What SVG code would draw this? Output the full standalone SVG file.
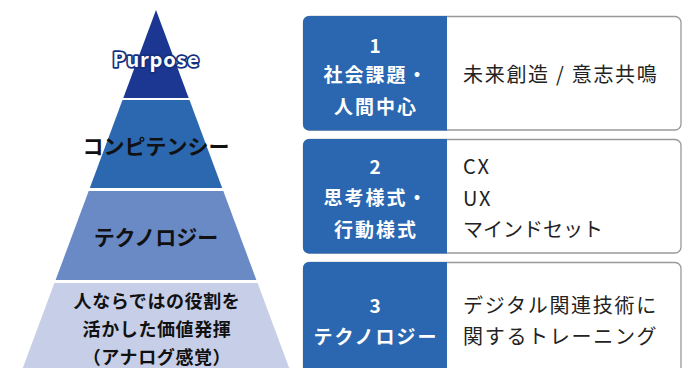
<svg xmlns="http://www.w3.org/2000/svg" width="696" height="368" viewBox="0 0 696 368">
<style>
text{font-family:"Noto Sans CJK JP","Noto Sans",sans-serif;}
.pt{font-size:21px;font-weight:700;fill:#111;text-anchor:middle;dominant-baseline:central;}
.p4{font-size:18px;font-weight:700;fill:#111;text-anchor:middle;dominant-baseline:central;letter-spacing:0.6px;}
.lt{font-size:19px;font-weight:700;fill:#fff;text-anchor:middle;dominant-baseline:central;letter-spacing:2px;}
.rt{font-size:20px;font-weight:400;fill:#222;dominant-baseline:central;letter-spacing:1.7px;}
.box{fill:#fff;stroke:#999;stroke-width:1.3;}
.lb{fill:#2a67b0;}
</style>
<g id="pyramid">
<g id="purpose">
<polygon points="156,10 188.7,98 123.3,98" fill="#1b3791"/>
<text x="156" y="67" text-anchor="middle" fill="#fff" stroke="#14307f" stroke-width="3.5" paint-order="stroke" stroke-linejoin="round" letter-spacing="0.8" style="font-size:20px;font-weight:700">Purpose</text>
</g>
<g id="competency">
<polygon points="122.5,100 189.5,100 222.2,188 89.8,188" fill="#2b68b0"/>
<text class="pt" x="156" y="145">コンピテンシー</text>
</g>
<g id="technology">
<polygon points="88.7,191 223.3,191 256.4,280 55.6,280" fill="#6a8ac6"/>
<text class="pt" x="156" y="236">テクノロジー</text>
</g>
<g id="human">
<polygon points="54.4,283 257.6,283 289.2,368 22.8,368" fill="#c7cfe8"/>
<text class="p4" x="157" y="300">人ならではの役割を</text>
<text class="p4" x="157" y="328">活かした価値発揮</text>
<text class="p4" x="157" y="356">（アナログ感覚）</text>
</g>
</g>
<g id="box1">
<rect class="box" x="303.5" y="16.5" width="377.5" height="113.5" rx="6"/>
<path class="lb" d="M309,16 H447 V130.5 H309 A6,6 0 0 1 303,124.5 V22 A6,6 0 0 1 309,16 Z"/>
<text class="lt" x="376" y="44">1</text>
<text class="lt" x="376" y="73">社会課題・</text>
<text class="lt" x="376" y="105">人間中心</text>
<text class="rt" x="463" y="73">未来創造 / 意志共鳴</text>
</g>
<g id="box2">
<rect class="box" x="303.5" y="139.5" width="377.5" height="113.5" rx="6"/>
<path class="lb" d="M309,139 H447 V253.5 H309 A6,6 0 0 1 303,247.5 V145 A6,6 0 0 1 309,139 Z"/>
<text class="lt" x="376" y="165">2</text>
<text class="lt" x="376" y="196">思考様式・</text>
<text class="lt" x="376" y="228">行動様式</text>
<text class="rt" x="463" y="165">CX</text>
<text class="rt" x="463" y="197">UX</text>
<text class="rt" x="463" y="228" style="letter-spacing:0px">マインドセット</text>
</g>
<g id="box3">
<rect class="box" x="303.5" y="262.5" width="377.5" height="113.5" rx="6"/>
<path class="lb" d="M309,262 H447 V376.5 H309 A6,6 0 0 1 303,370.5 V268 A6,6 0 0 1 309,262 Z"/>
<text class="lt" x="376" y="304">3</text>
<text class="lt" x="376" y="335">テクノロジー</text>
<text class="rt" x="463" y="304">デジタル関連技術に</text>
<text class="rt" x="463" y="335">関するトレーニング</text>
</g>
<g id="connectors"/>
</svg>
